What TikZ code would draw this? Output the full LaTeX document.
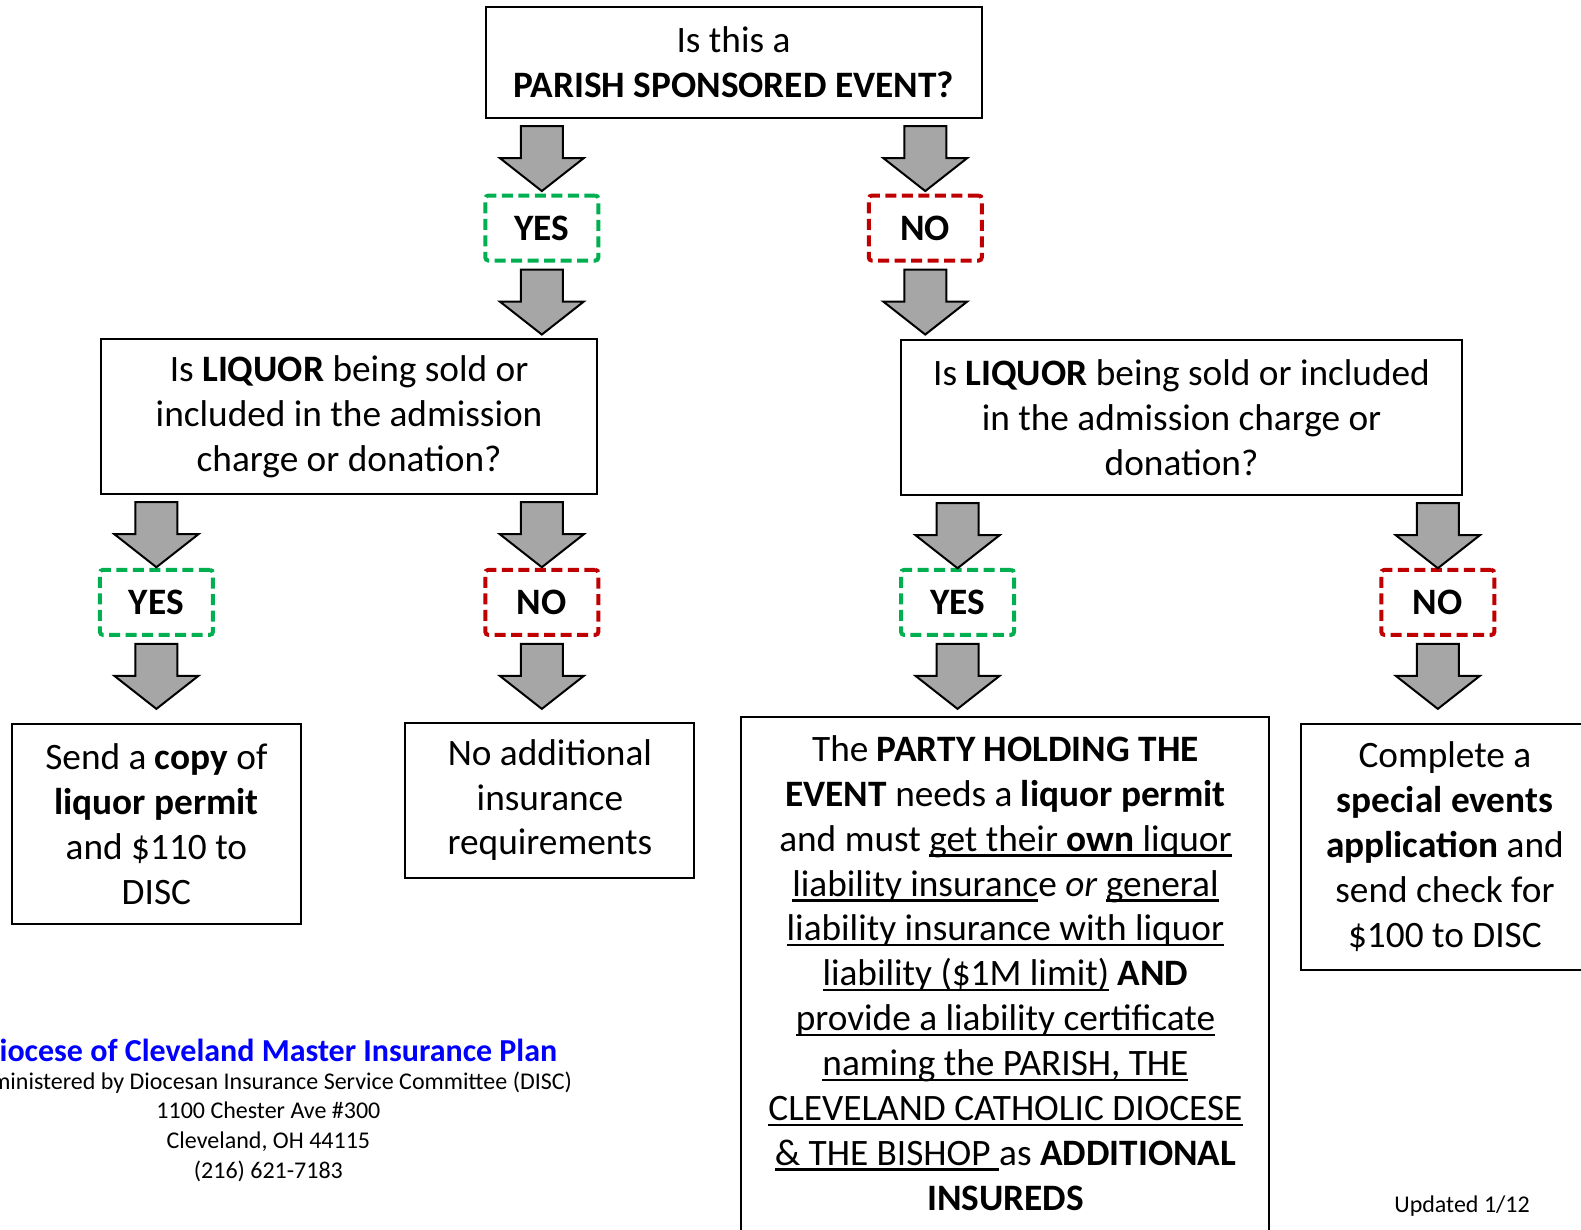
\documentclass[tikz,border=0pt]{standalone}
\usepackage{fontspec}
\setmainfont{Carlito}
\usepackage{tikz}
\usetikzlibrary{calc,positioning}

\definecolor{yesgreen}{RGB}{0,176,80}
\definecolor{nored}{RGB}{192,0,0}
\definecolor{arrowgray}{RGB}{166,166,166}

\newsavebox{\ulbox}
\newcommand{\ulx}[1]{\sbox{\ulbox}{#1}\rlap{\rule[-5.5pt]{\wd\ulbox}{2.5pt}}\usebox{\ulbox}}

% block arrow: from #1 towards #2, on the column of #3
\newcommand{\flowarrow}[3]{%
  \draw[blockarrow] let \p1=(#1.south), \p2=(#2.north), \p3=(#3.center) in
    (\x3-21pt,\y1-7pt) -- (\x3+21pt,\y1-7pt) -- (\x3+21pt,\y1-39pt)
    -- (\x3+42pt,\y1-39pt) -- (\x3,\y1-72pt) -- (\x3-42pt,\y1-39pt)
    -- (\x3-21pt,\y1-39pt) -- cycle;}

\begin{document}
\begin{tikzpicture}[x=1.009pt, y=1.009pt,
  box/.style={rectangle, draw, line width=2pt, align=center, inner sep=0pt,
    font=\fontsize{37.3}{44.9}\selectfont},
  answer/.style={rectangle, draw, line width=4pt, dash pattern=on 11pt off 5.5pt,
    rounded corners=3pt, minimum width=113pt, minimum height=65pt,
    font=\fontsize{37.3}{44}\selectfont\bfseries},
  yes/.style={answer, draw=yesgreen},
  no/.style={answer, draw=nored},
  blockarrow/.style={draw=black, line width=2pt, fill=arrowgray, line join=miter},
  small/.style={align=center, font=\fontsize{24}{29.6}\selectfont}]

\useasboundingbox (0pt,0pt) rectangle (1581pt,-1229pt);

\node[box, minimum width=496pt, minimum height=111pt] (parish) at (727,-62)
  {Is this a\\ \textbf{PARISH SPONSORED EVENT?}};

\node[yes] (yes_1) at (537,-226) {YES};
\node[no] (no_1) at (917,-226) {NO};

\node[box, minimum width=496pt, minimum height=155pt] (liquor_1) at (346,-413)
  {Is \textbf{LIQUOR} being sold or\\ included in the admission\\ charge or donation?};
\node[box, minimum width=561pt, minimum height=155pt] (liquor_2) at (1171,-414)
  {Is \textbf{LIQUOR} being sold or included\\ in the admission charge or\\ donation?};

\node[yes] (yes_2) at (155,-597) {YES};
\node[no] (no_2) at (537,-597) {NO};
\node[yes] (yes_3) at (949,-597) {YES};
\node[no] (no_3) at (1425,-597) {NO};

\node[box, minimum width=289pt, minimum height=200pt] (copy_permit) at (155,-817)
  {Send a \textbf{copy} of\\ \textbf{liquor permit}\\ and \$110 to\\ DISC};
\node[box, minimum width=289pt, minimum height=155pt] (no_extra) at (545,-793)
  {No additional\\ insurance\\ requirements};
\node[box, minimum width=528pt, anchor=north, inner ysep=18pt] (party) at (996.5,-710)
  {The \textbf{PARTY HOLDING THE}\\
   \textbf{EVENT} needs a \textbf{liquor permit}\\
   and must \ulx{get their \textbf{own} liquor}\\
   \ulx{liability insuranc}e \textit{or} \ulx{general}\\
   \ulx{liability insurance with liquor}\\
   \ulx{liability (\$1M limit)} \textbf{AND}\\
   \ulx{provide a liability certificate}\\
   \ulx{naming the PARISH, THE}\\
   \ulx{CLEVELAND CATHOLIC DIOCESE}\\
   \ulx{\&~THE BISHOP\ }as \textbf{ADDITIONAL}\\
   \textbf{INSUREDS}\\[20pt] ~};
\node[box, minimum width=287pt, minimum height=246pt] (special_app) at (1432,-839)
  {Complete a\\ \textbf{special events}\\ \textbf{application} and\\ send check for\\ \$100 to DISC};

\node[font=\fontsize{32}{38}\selectfont\bfseries, text=blue] (plan) at (266,-1041)
  {Diocese of Cleveland Master Insurance Plan};
\node[small] (admin) at (266,-1116.5)
  {Administered by Diocesan Insurance Service Committee (DISC)\\
   1100 Chester Ave \#300\\ Cleveland, OH 44115\\ (216) 621-7183};
\node[small] (updated) at (1449,-1195) {Updated 1/12};

% Arrows
\flowarrow{parish}{yes_1}{yes_1}
\flowarrow{parish}{no_1}{no_1}
\flowarrow{yes_1}{liquor_1}{yes_1}
\flowarrow{no_1}{liquor_2}{no_1}
\flowarrow{liquor_1}{yes_2}{yes_2}
\flowarrow{liquor_1}{no_2}{no_2}
\flowarrow{liquor_2}{yes_3}{yes_3}
\flowarrow{liquor_2}{no_3}{no_3}
\flowarrow{yes_2}{copy_permit}{yes_2}
\flowarrow{no_2}{no_extra}{no_2}
\flowarrow{yes_3}{party}{yes_3}
\flowarrow{no_3}{special_app}{no_3}

\end{tikzpicture}
\end{document}
